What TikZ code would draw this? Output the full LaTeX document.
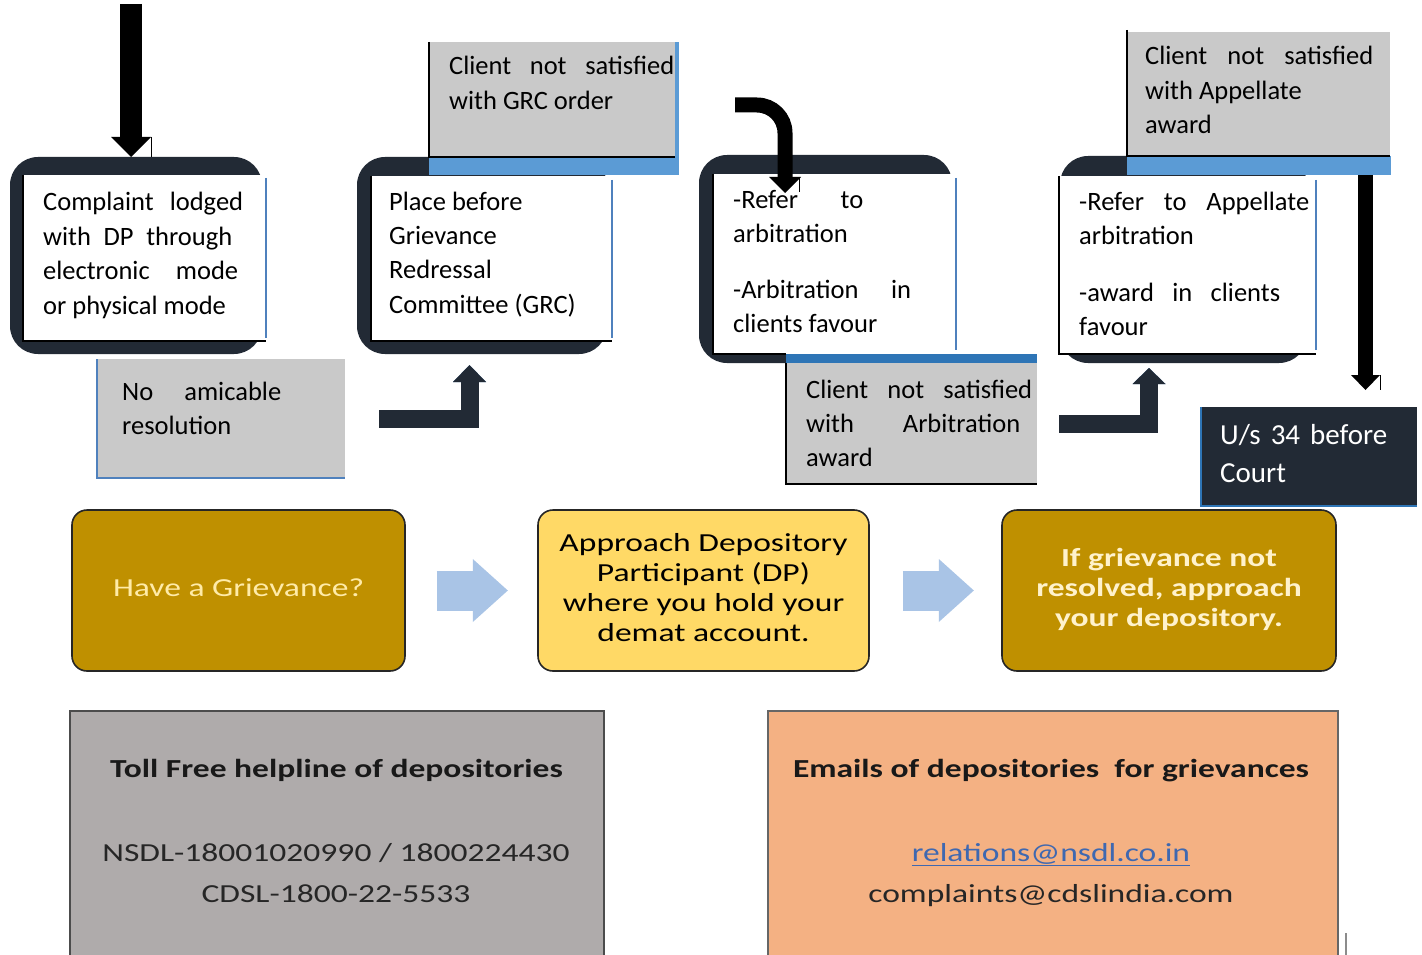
\documentclass[tikz,border=0pt]{standalone}
\usepackage{fontspec}
\setmainfont{Carlito}
\usepackage{graphicx}
\usetikzlibrary{arrows.meta}
\definecolor{navy}{HTML}{222A35}
\definecolor{barblue}{HTML}{5B9BD5}
\definecolor{barblue2}{HTML}{2E75B6}
\definecolor{edgeblue}{HTML}{4F81BD}
\definecolor{boxgray}{HTML}{C9C9C9}
\definecolor{gold}{HTML}{BF9000}
\definecolor{goldtext}{HTML}{FFEBA8}
\definecolor{goldtext2}{HTML}{FFF2CC}
\definecolor{dpyellow}{HTML}{FFD966}
\definecolor{arrowblue}{HTML}{A9C4E6}
\definecolor{tollgray}{HTML}{AFABAB}
\definecolor{mailorange}{HTML}{F4B183}
\definecolor{linkblue}{HTML}{3F68B0}
\newcommand{\hstr}[1]{\scalebox{1.29}[1]{#1}}
\newcommand{\jl}[2]{\makebox[#1pt][s]{#2}}
\begin{document}
\begin{tikzpicture}[x=1pt,y=-1pt,
  tt/.style={anchor=base west, inner sep=0pt, font=\fontsize{26.5}{34.4}\selectfont},
  frame/.style={fill=navy, rounded corners=28pt},
  whitebox/.style={fill=white},
  graybox/.style={fill=boxgray},
  thinblack/.style={draw=black, line width=1.2pt},
  thinblue/.style={draw=edgeblue, line width=1.2pt},
  midbox/.style={rectangle, rounded corners=15pt, draw=black!85, line width=1.6pt,
     minimum width=#1, minimum height=161pt, inner sep=0pt},
  midtext/.style={font=\fontsize{26}{30}\selectfont},
  midtextbold/.style={font=\fontsize{26}{30}\selectfont\bfseries},
  bluearrow/.style={arrowblue, line width=40pt, -{Triangle[width=63pt,length=35pt,line width=0pt]}}
]
\useasboundingbox (0,0) rectangle (1422,955);
\fill[white] (0,0) rectangle (1422,955);

% ---------- Complaint box ----------
\fill[frame] (10,157) rectangle (262,354);
\fill[whitebox] (23,175) rectangle (266,341);
\draw[thinblack] (23,175) -- (23,341) -- (266,341);
\draw[thinblue] (266,178) -- (266,338);
\node[tt] (complaint) at (43,211) {\begin{tabular}[t]{@{}l@{}}\jl{200}{Complaint lodged}\\ \jl{189}{with DP through}\\ \jl{195}{electronic mode}\\ or physical mode\end{tabular}};

% ---------- No amicable resolution ----------
\fill[graybox] (97,359) rectangle (345,478);
\draw[thinblue] (97,359) -- (97,478) -- (345,478);
\node[tt] (noamic) at (122,400) {\begin{tabular}[t]{@{}l@{}}\jl{159}{No amicable}\\ resolution\end{tabular}};

% ---------- GRC box ----------
\fill[frame] (357,157) rectangle (607,354);
\fill[barblue] (429,157) rectangle (679,175);
\fill[barblue] (675,42) rectangle (679,157);
\fill[graybox] (429,42) rectangle (675,157);
\draw[thinblack] (429,42) -- (429,157) -- (675,157);
\fill[whitebox] (371,176) rectangle (612,341);
\draw[thinblack] (371,176) -- (371,341) -- (612,341);
\draw[thinblue] (612,180) -- (612,338);
\node[tt] (grc) at (389,210) {\begin{tabular}[t]{@{}l@{}}Place before\\ Grievance\\ Redressal\\ Committee (GRC)\end{tabular}};
\node[tt] (grcnot) at (449,75) {\begin{tabular}[t]{@{}l@{}}\jl{225}{Client not satisfied}\\ with GRC order\end{tabular}};

% ---------- Arbitration box ----------
\fill[frame] (699,155) rectangle (952,363);
\fill[whitebox] (713,174) rectangle (956,354);
\draw[thinblack] (713,174) -- (713,354) -- (786,354);
\draw[thinblue] (956,178) -- (956,350);
\fill[barblue2] (786,354) rectangle (1037,363);
\fill[graybox] (786,363) rectangle (1037,484);
\draw[thinblack] (786,363) -- (786,484) -- (1037,484);
\node[tt] (arb) at (733,208) {\begin{tabular}[t]{@{}l@{}}\jl{130}{-Refer to}\\ arbitration\\[21.6pt] \jl{178}{-Arbitration in}\\ clients favour\end{tabular}};
\node[tt] (arbnot) at (806,398) {\begin{tabular}[t]{@{}l@{}}\jl{226}{Client not satisfied}\\ \jl{214}{with Arbitration}\\ award\end{tabular}};

% ---------- Appellate box ----------
\fill[frame] (1060,156) rectangle (1307,363);
\fill[barblue] (1127,156) rectangle (1391,175);
\fill[graybox] (1127,32) rectangle (1390,156);
\draw[thinblack] (1127,30) -- (1127,156) -- (1390,156);
\fill[whitebox] (1059,176) rectangle (1316,354);
\draw[thinblack] (1059,176) -- (1059,354) -- (1316,354);
\draw[thinblue] (1316,180) -- (1316,350);
\node[tt] (app) at (1079,210) {\begin{tabular}[t]{@{}l@{}}\jl{230}{-Refer to Appellate}\\ arbitration\\[22.6pt] \jl{201}{-award in clients}\\ favour\end{tabular}};
\node[tt] (appnot) at (1145,65) {\begin{tabular}[t]{@{}l@{}}\jl{228}{Client not satisfied}\\ with Appellate\\ award\end{tabular}};

% ---------- Court box ----------
\fill[navy] (1200,407) rectangle (1417,507);
\draw[barblue2, line width=2pt] (1201,407) -- (1201,506) -- (1417,506);
\node[tt, font=\fontsize{29}{38}\selectfont, text=white] (court) at (1220,444) {\begin{tabular}[t]{@{}l@{}}\jl{167}{U/s 34 before}\\ Court\end{tabular}};

% ---------- black arrows ----------
\coordinate (a1s) at (131,4);
\coordinate (a1e) at (131,157);
\draw[line width=22pt, -{Triangle[width=40pt,length=20pt,line width=0pt]}] (a1s) -- (a1e);
\draw[line width=1pt] (151,137) -- (151,157);

\coordinate (a2s) at (735,105);
\coordinate (a2c) at (785,105);
\coordinate (a2e) at (785,193);
\draw[line width=15pt, rounded corners=28pt, -{Triangle[width=32pt,length=16pt,line width=0pt]}] (a2s) -- (a2c) -- (a2e);
\draw[line width=1pt] (799,177) -- (799,192);

\coordinate (a3s) at (1365.5,175);
\coordinate (a3e) at (1365.5,390);
\draw[line width=15pt, -{Triangle[width=29pt,length=15pt,line width=0pt]}] (a3s) -- (a3e);
\draw[line width=1pt] (1380,375) -- (1380,390);

% ---------- bent navy arrows ----------
\coordinate (b1s) at (379,419);
\coordinate (b1c) at (469.5,419);
\coordinate (b1e) at (469.5,365);
\begin{scope}[shift={(-1.5,-1.5)}]
\draw[edgeblue, line width=18pt, -{Triangle[width=33pt,length=17pt,line width=0pt]}] (b1s) -- (b1c) -- (b1e);
\end{scope}
\draw[navy, line width=18pt, -{Triangle[width=33pt,length=17pt,line width=0pt]}] (b1s) -- (b1c) -- (b1e);

\coordinate (b2s) at (1059,424);
\coordinate (b2c) at (1149,424);
\coordinate (b2e) at (1149,368);
\begin{scope}[shift={(-1.5,-1.5)}]
\draw[edgeblue, line width=18pt, -{Triangle[width=33pt,length=16pt,line width=0pt]}] (b2s) -- (b2c) -- (b2e);
\end{scope}
\draw[navy, line width=18pt, -{Triangle[width=33pt,length=16pt,line width=0pt]}] (b2s) -- (b2c) -- (b2e);

% ---------- middle row ----------
\node[midbox=333pt, fill=gold, text=goldtext, midtext] (g1) at (238.5,590.5)
  {\hstr{\begin{tabular}{@{}c@{}}Have a Grievance?\end{tabular}}};
\node[midbox=331pt, fill=dpyellow, text=black, midtext] (g2) at (703.5,590.5)
  {\hstr{\begin{tabular}{@{}c@{}}Approach Depository\\ Participant (DP)\\ where you hold your\\ demat account.\end{tabular}}};
\node[midbox=334pt, fill=gold, text=goldtext2, midtextbold] (g3) at (1169,590.5)
  {\hstr{\begin{tabular}{@{}c@{}}If grievance not\\ resolved, approach\\ your depository.\end{tabular}}};
\draw[bluearrow] (g1.east) ++(31,0) -- ++(71,0);
\draw[bluearrow] (g2.east) ++(33,0) -- ++(71,0);

% ---------- bottom boxes ----------
\fill[tollgray, draw=black!70, line width=1.5pt] (70,711) rectangle (604,965);
\node[anchor=base, inner sep=0pt, font=\fontsize{26}{30}\selectfont\bfseries, text=black!90] (tolltitle) at (336.5,777) {\hstr{Toll Free helpline of depositories}};
\node[anchor=base, inner sep=0pt, font=\fontsize{26}{30}\selectfont, text=black!85] (nsdl) at (336,861) {\hstr{NSDL-18001020990 / 1800224430}};
\node[anchor=base, inner sep=0pt, font=\fontsize{26}{30}\selectfont, text=black!85] (cdsl) at (336,902) {\hstr{CDSL-1800-22-5533}};

\fill[mailorange, draw=black!60, line width=1.5pt] (768,711) rectangle (1338,965);
\node[anchor=base, inner sep=0pt, font=\fontsize{26}{30}\selectfont\bfseries, text=black!90] (mailtitle) at (1051,777) {\hstr{Emails of depositories\ \ for grievances}};
\node[anchor=base, inner sep=0pt, font=\fontsize{26}{30}\selectfont, text=linkblue] (nsdlmail) at (1051,861) {\hstr{\underline{relations@nsdl.co.in}}};
\node[anchor=base, inner sep=0pt, font=\fontsize{26}{30}\selectfont, text=black!85] (cdslmail) at (1051,902) {\hstr{complaints@cdslindia.com}};
\draw[black!45, line width=2pt] (1346,933) -- (1346,955);
\end{tikzpicture}
\end{document}
